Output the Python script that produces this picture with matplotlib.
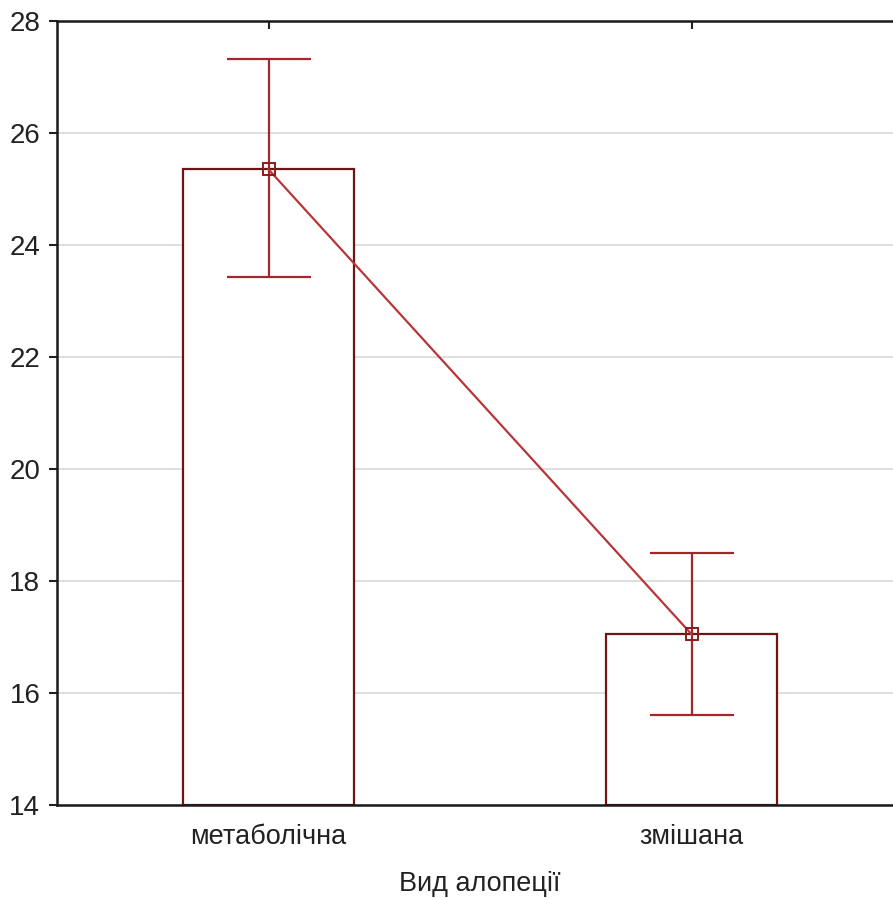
import numpy as np
import matplotlib.pyplot as plt

# alopecia type vs mean value, with error bars
categories = ["метаболічна", "змішана"]
means = [25.35, 17.05]
err_low = [23.42, 15.61]
err_high = [27.32, 18.50]

plt.rcParams['font.family'] = ['Liberation Sans', 'DejaVu Sans']

fig = plt.figure(figsize=(8.93, 8.99), dpi=100)
ax = fig.add_axes([57 / 893, 1 - 805 / 899, 846 / 893, 784 / 899])

x = np.arange(len(categories))
m = np.array(means)
lo = m - np.array(err_low)
hi = np.array(err_high) - m

ax.bar(x, m - 14, bottom=14, width=0.405, facecolor="white",
       edgecolor="#6e1414", linewidth=1.6, zorder=2)
ax.errorbar(x, m, yerr=[lo, hi], fmt="none", ecolor="#a3262a",
            elinewidth=1.6, capsize=30.5, capthick=1.6, zorder=3)
ax.plot(x, m, color="#b7363a", linewidth=1.6, marker="s", markersize=8.5,
        markerfacecolor="none", markeredgecolor="#8e1a1a",
        markeredgewidth=1.4, zorder=4)

ax.set_xlim(-0.5, 1.5)
ax.set_ylim(14, 28)
ax.set_yticks(np.arange(14, 29, 2))
ax.set_xticks(x)
ax.set_xticklabels(categories)
ax.yaxis.grid(True, color="#d9d9d9", linewidth=1.2, zorder=0)
ax.set_axisbelow(True)

for s in ["left", "top", "bottom"]:
    ax.spines[s].set_linewidth(1.8)
    ax.spines[s].set_color("#1a1a1a")
ax.spines["right"].set_visible(False)

ax.tick_params(axis="y", direction="out", length=6, width=1.5,
               labelsize=20, colors="#222222", pad=6)
ax.tick_params(axis="x", direction="in", length=6, width=1.5,
               labelsize=19.5, colors="#222222", pad=14, top=True)
ax.set_xlabel("Вид алопеції", fontsize=19.5, color="#222222", labelpad=15)

fig.savefig("out.png", dpi=100)
